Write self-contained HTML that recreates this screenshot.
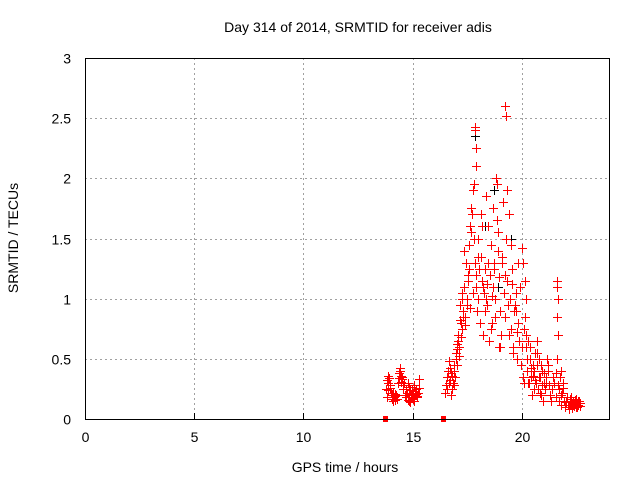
<!DOCTYPE html>
<html><head><meta charset="utf-8"><style>
body{margin:0;background:#fff;}
svg{display:block;font-family:"Liberation Sans",sans-serif;}
</style></head><body>
<svg id="chart" width="640" height="480">
<rect width="640" height="480" fill="#fff"/>
<g id="grid"></g>
<g id="marks" shape-rendering="crispEdges"></g>
<rect x="85.5" y="58.5" width="524" height="361" fill="none" stroke="#000" stroke-width="1"/>
<g id="axes"></g>
<text x="358" y="32" text-anchor="middle" font-size="14" fill="#000">Day 314 of 2014, SRMTID for receiver adis</text>
<text x="345" y="472" text-anchor="middle" font-size="14" fill="#000">GPS time / hours</text>
<text transform="translate(18,238) rotate(-90)" text-anchor="middle" font-size="14" fill="#000">SRMTID / TECUs</text>
</svg>
<script>
const xTicks=[0,5,10,15,20];
const yTicks=[0,0.5,1,1.5,2,2.5,3];
const yTickLabels=["0","0.5","1","1.5","2","2.5","3"];
// red series: [hours, TECU] pairs
const redPoints=[
[13.8,0.25],[13.85,0.32],[13.9,0.36],[13.95,0.28],[14.0,0.22],[13.82,0.18],[13.88,0.3],[13.93,0.34],[13.87,0.24],[13.97,0.26],
[14.05,0.2],[14.1,0.15],[14.15,0.18],[14.2,0.16],[14.25,0.2],[14.3,0.17],[14.12,0.22],[14.22,0.19],[14.08,0.17],[14.18,0.21],
[14.35,0.3],[14.4,0.38],[14.45,0.42],[14.5,0.35],[14.55,0.28],[14.6,0.3],[14.42,0.4],[14.48,0.36],[14.52,0.33],[14.58,0.25],[14.38,0.34],[14.46,0.31],
[14.65,0.2],[14.7,0.18],[14.75,0.22],[14.8,0.16],[14.85,0.2],[14.9,0.24],[14.95,0.18],[15.0,0.22],[15.05,0.15],[15.1,0.2],
[15.15,0.25],[15.2,0.18],[15.25,0.22],[14.72,0.25],[14.82,0.15],[14.92,0.2],[15.02,0.17],[15.12,0.23],[15.22,0.19],[15.3,0.26],
[15.32,0.33],[14.78,0.3],[14.88,0.14],[14.98,0.21],[14.86,0.27],[15.08,0.28],[14.96,0.24],[15.18,0.21],
[16.5,0.22],[16.55,0.28],[16.6,0.35],[16.65,0.3],[16.7,0.42],[16.75,0.38],[16.8,0.25],[16.85,0.3],[16.9,0.45],[16.95,0.35],
[16.58,0.25],[16.68,0.48],[16.78,0.2],[16.88,0.4],[16.98,0.5],[16.62,0.4],[16.72,0.32],[16.82,0.36],[16.92,0.28],
[17.0,0.55],[17.05,0.62],[17.1,0.7],[17.15,0.6],[17.2,0.8],[17.25,0.75],[17.3,0.9],[17.08,0.65],[17.18,0.95],[17.28,1.05],
[17.02,0.45],[17.12,0.52],[17.22,0.68],[17.32,0.85],[17.06,0.58],[17.16,0.82],[17.26,1.0],
[17.35,1.1],[17.4,0.85],[17.45,1.3],[17.5,1.0],[17.55,1.2],[17.6,1.45],[17.65,1.6],[17.7,1.55],[17.38,1.4],[17.48,0.95],
[17.58,1.25],[17.68,1.75],[17.75,1.9],[17.8,1.5],[17.85,1.3],[17.9,1.1],[17.95,0.9],[17.72,1.7],[17.82,1.95],[17.92,1.2],
[17.88,2.4],[17.86,2.43],[17.9,2.1],[17.93,2.25],[17.42,0.78],[17.52,1.15],[17.62,0.92],[17.78,1.05],[17.98,1.35],
[18.0,1.0],[18.05,1.25],[18.1,0.8],[18.15,1.35],[18.2,1.6],[18.25,1.1],[18.3,0.9],[18.02,1.5],[18.12,1.7],[18.22,0.7],
[18.28,1.05],[18.35,1.85],[18.4,0.95],[18.45,1.3],[18.5,0.65],[18.55,1.2],[18.6,1.45],[18.65,0.8],[18.7,1.75],[18.38,1.0],
[18.48,1.6],[18.58,0.75],[18.68,1.1],[18.75,1.3],[18.8,0.85],[18.85,1.95],[18.9,1.55],[18.95,0.6],[18.72,1.25],[18.82,2.0],
[18.92,1.4],[18.78,1.0],[18.88,1.65],[18.18,1.15],[18.32,1.25],[18.42,1.12],[18.62,1.02],[18.98,1.18],
[19.0,0.9],[19.05,0.7],[19.1,1.3],[19.15,1.8],[19.2,1.05],[19.25,0.85],[19.3,1.5],[19.35,1.9],[19.02,0.6],[19.12,1.35],
[19.22,1.2],[19.25,2.6],[19.27,2.52],[19.32,1.15],[19.4,1.7],[19.45,1.0],[19.5,0.75],[19.55,1.25],[19.6,0.55],[19.65,0.9],
[19.42,0.7],[19.52,1.45],[19.62,0.6],[19.7,0.95],[19.75,1.05],[19.8,0.5],[19.85,0.8],[19.9,0.65],[19.95,0.45],[19.72,0.9],
[19.82,1.3],[19.92,1.1],[20.0,0.6],[20.05,0.35],[20.1,0.3],[20.02,1.42],[20.08,1.3],[20.12,0.75],[19.38,0.95],[19.58,1.12],[19.78,0.72],
[20.15,1.15],[20.2,1.0],[20.25,0.5],[20.15,0.85],[20.2,0.6],[20.25,0.4],[20.3,0.65],[20.35,0.3],[20.4,0.5],[20.45,0.35],
[20.5,0.45],[20.55,0.25],[20.6,0.55],[20.18,0.7],[20.28,0.3],[20.38,0.6],[20.48,0.2],[20.58,0.4],[20.65,0.3],[20.7,0.45],
[20.75,0.25],[20.8,0.5],[20.85,0.35],[20.9,0.2],[20.95,0.4],[21.0,0.3],[21.05,0.25],[20.68,0.55],[20.78,0.35],[20.88,0.45],
[20.98,0.15],[20.72,0.65],[20.82,0.22],[20.62,0.32],[20.92,0.28],[21.02,0.38],[20.52,0.36],[20.42,0.42],
[21.1,0.3],[21.15,0.5],[21.2,0.45],[21.25,0.28],[21.3,0.2],[21.12,0.35],[21.22,0.4],[21.35,0.15],[21.4,0.25],[21.45,0.35],
[21.5,0.3],[21.55,0.18],[21.6,1.1],[21.65,1.0],[21.62,1.15],[21.64,0.85],[21.66,0.7],[21.6,0.5],[21.7,0.25],[21.75,0.35],
[21.8,0.4],[21.85,0.22],[21.9,0.3],[21.72,0.15],[21.82,0.2],[21.58,0.38],[21.68,0.28],[21.78,0.12],[21.88,0.26],
[21.95,0.15],[22.0,0.1],[22.05,0.15],[22.1,0.12],[22.15,0.08],[22.2,0.14],[22.25,0.18],[22.3,0.1],[22.35,0.15],[22.4,0.12],
[22.45,0.16],[22.5,0.1],[22.55,0.13],[22.6,0.15],[22.65,0.11],[22.02,0.14],[22.12,0.12],[22.22,0.17],[22.32,0.09],[22.42,0.13],
[22.52,0.1],[22.62,0.15],[22.08,0.18],[22.18,0.1],[22.28,0.14],[22.38,0.11],[22.48,0.17],[22.58,0.12],[22.68,0.13]
];
const zeroTimes=[13.75,16.4];
const blackPoints=[[17.85,2.35],[18.3,1.6],[18.75,1.9],[19.5,1.5],[18.9,1.1]];

const NS='http://www.w3.org/2000/svg';
const X0=85,X1=609,Y0=419,Y1=58;
function xs(t){return X0+(t/24)*(X1-X0);}
function ys(v){return Y0-(v/3)*(Y0-Y1);}
const grid=document.getElementById('grid'),axes=document.getElementById('axes'),marks=document.getElementById('marks');
function mk(tag,attrs,parent){const e=document.createElementNS(NS,tag);for(const k in attrs)e.setAttribute(k,attrs[k]);parent.appendChild(e);return e;}
xTicks.forEach(t=>{
  const x=Math.round(xs(t))+0.5;
  if(t>0){const g=mk('line',{x1:x,x2:x,y1:Y1,y2:Y0,stroke:'#a0a0a0','stroke-dasharray':'2,3'},grid);
  
  }
  const tk=mk('line',{x1:x,x2:x,y1:Y0,y2:Y0-6,stroke:'#000'},axes);
  
  
  const tx=mk('text',{x:x,y:442,'text-anchor':'middle','font-size':'14',fill:'#000'},axes);
  tx.textContent=t;
  
  
});
yTicks.forEach((v,i)=>{
  const y=Math.round(ys(v))+0.5;
  if(v>0&&v<3){const g=mk('line',{x1:X0,x2:X1,y1:y,y2:y,stroke:'#a0a0a0','stroke-dasharray':'2,3'},grid);
  
  }
  const tx=mk('text',{x:71,y:y+5,'text-anchor':'end','font-size':'14',fill:'#000'},axes);
  tx.textContent=yTickLabels[i];
  
  
});
function plus(t,v,color,name){
  const x=Math.round(xs(t)),y=Math.round(ys(v));
  const g=mk('g',{fill:color},marks);
  
  
  mk('rect',{x:x-4,y:y,width:9,height:1},g);
  mk('rect',{x:x,y:y-4,width:1,height:9},g);
}
blackPoints.forEach(p=>plus(p[0],p[1],'#000','black-point'));
redPoints.forEach(p=>plus(p[0],p[1],'#ff0000','red-point'));
zeroTimes.forEach(t=>{
  const r=mk('rect',{x:Math.round(xs(t))-2,y:Y0-3,width:5,height:6,fill:'#ff0000'},marks);
  
  
});
</script>
</body></html>
